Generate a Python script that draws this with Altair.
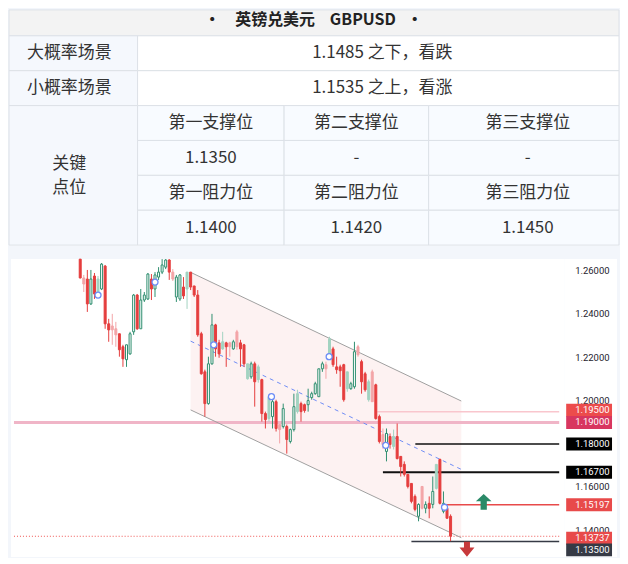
import altair as alt
import pandas as pd

# ---------------- table content ----------------
title_cn = "英镑兑美元"
title_en = "GBPUSD"
scenario_labels = ["大概率场景", "小概率场景"]
scenario_texts = ["1.1485 之下，看跌", "1.1535 之上，看涨"]
key_label_lines = ["关键", "点位"]
support_headers = ["第一支撑位", "第二支撑位", "第三支撑位"]
support_values = ["1.1350", "-", "-"]
resist_headers = ["第一阻力位", "第二阻力位", "第三阻力位"]
resist_values = ["1.1400", "1.1420", "1.1450"]

# ---------------- candle data (daily GBPUSD) ----------------
opens = [
    1.2655, 1.2568, 1.2563, 1.2448, 1.2577, 1.2489, 1.2517, 1.2623, 1.2356, 1.2346,
    1.2333, 1.2310, 1.2250, 1.2190, 1.2217, 1.2319, 1.2489, 1.2333, 1.2466, 1.2471,
    1.2563, 1.2517, 1.2572, 1.2595, 1.2618, 1.2651, 1.2595, 1.2480, 1.2471, 1.2526,
    1.2517, 1.2595, 1.2531, 1.2489, 1.2310, 1.2134, 1.1987, 1.2171, 1.2351, 1.2268,
    1.2240, 1.2268, 1.2268, 1.2240, 1.2319, 1.2268, 1.2259, 1.2102, 1.2111, 1.2171,
    1.2098, 1.2098, 1.1941, 1.1918, 1.1927, 1.1996, 1.1890, 1.1881, 1.1881, 1.1812,
    1.1867, 1.1950, 1.1987, 1.1982, 1.1982, 1.2015, 1.2033, 1.2019, 1.2148, 1.2167,
    1.2194, 1.2240, 1.2157, 1.2157, 1.2167, 1.2056, 1.2056, 1.2065, 1.2250, 1.2181,
    1.2125, 1.2005, 1.2134, 1.2074, 1.1927, 1.1844, 1.1766, 1.1835, 1.1789, 1.1835,
    1.1743, 1.1706, 1.1660, 1.1618, 1.1558, 1.1466, 1.1604, 1.1503, 1.1526, 1.1521,
    1.1595, 1.1729, 1.1489, 1.1503, 1.1466,
]
highs = [
    1.2655, 1.2582, 1.2605, 1.2605, 1.2591, 1.2577, 1.2637, 1.2628, 1.2379, 1.2402,
    1.2365, 1.2310, 1.2259, 1.2259, 1.2319, 1.2494, 1.2494, 1.2517, 1.2503, 1.2591,
    1.2586, 1.2595, 1.2618, 1.2655, 1.2655, 1.2655, 1.2609, 1.2582, 1.2586, 1.2572,
    1.2595, 1.2595, 1.2531, 1.2512, 1.2319, 1.2144, 1.2204, 1.2402, 1.2356, 1.2282,
    1.2319, 1.2273, 1.2273, 1.2282, 1.2328, 1.2282, 1.2263, 1.2171, 1.2181, 1.2181,
    1.2167, 1.2102, 1.1950, 1.2028, 1.2019, 1.2005, 1.1890, 1.1987, 1.1890, 1.1872,
    1.2033, 1.2051, 1.1996, 1.1987, 1.2056, 1.2042, 1.2088, 1.2148, 1.2181, 1.2181,
    1.2296, 1.2250, 1.2204, 1.2167, 1.2171, 1.2134, 1.2088, 1.2273, 1.2259, 1.2190,
    1.2134, 1.2098, 1.2144, 1.2079, 1.1936, 1.1872, 1.1872, 1.1849, 1.1867, 1.1895,
    1.1743, 1.1720, 1.1660, 1.1618, 1.1567, 1.1526, 1.1604, 1.1535, 1.1558, 1.1650,
    1.1706, 1.1733, 1.1581, 1.1512, 1.1475,
]
lows = [
    1.2566, 1.2503, 1.2411, 1.2443, 1.2471, 1.2476, 1.2512, 1.2333, 1.2273, 1.2259,
    1.2250, 1.2204, 1.2157, 1.2157, 1.2213, 1.2305, 1.2328, 1.2333, 1.2457, 1.2466,
    1.2466, 1.2480, 1.2559, 1.2586, 1.2609, 1.2559, 1.2554, 1.2457, 1.2462, 1.2471,
    1.2425, 1.2512, 1.2480, 1.2296, 1.2121, 1.1927, 1.1982, 1.2167, 1.2204, 1.2199,
    1.2236, 1.2157, 1.2204, 1.2236, 1.2236, 1.2157, 1.2157, 1.2098, 1.2102, 1.1973,
    1.2084, 1.1904, 1.1872, 1.1904, 1.1872, 1.1858, 1.1803, 1.1872, 1.1756, 1.1803,
    1.1858, 1.1941, 1.1904, 1.1945, 1.1950, 1.2005, 1.2028, 1.2019, 1.2134, 1.2102,
    1.2190, 1.2157, 1.2125, 1.2065, 1.1996, 1.2042, 1.2051, 1.2056, 1.2204, 1.2033,
    1.2042, 1.1996, 1.1996, 1.1913, 1.1803, 1.1779, 1.1720, 1.1779, 1.1775, 1.1729,
    1.1650, 1.1650, 1.1595, 1.1526, 1.1489, 1.1443, 1.1498, 1.1480, 1.1457, 1.1503,
    1.1590, 1.1521, 1.1480, 1.1457, 1.1351,
]
closes = [
    1.2568, 1.2540, 1.2448, 1.2563, 1.2494, 1.2563, 1.2632, 1.2356, 1.2328, 1.2328,
    1.2305, 1.2236, 1.2194, 1.2259, 1.2310, 1.2489, 1.2333, 1.2466, 1.2489, 1.2586,
    1.2517, 1.2582, 1.2595, 1.2628, 1.2651, 1.2595, 1.2563, 1.2572, 1.2582, 1.2485,
    1.2595, 1.2526, 1.2489, 1.2305, 1.2125, 1.1987, 1.2171, 1.2351, 1.2240, 1.2217,
    1.2273, 1.2250, 1.2250, 1.2273, 1.2250, 1.2240, 1.2171, 1.2171, 1.2171, 1.2088,
    1.2157, 1.1941, 1.1913, 1.2019, 1.1996, 1.1872, 1.1867, 1.1964, 1.1821, 1.1867,
    1.1973, 1.2033, 1.1950, 1.1955, 1.2001, 1.2033, 1.2079, 1.2148, 1.2171, 1.2148,
    1.2287, 1.2167, 1.2144, 1.2139, 1.2005, 1.2134, 1.2079, 1.2227, 1.2213, 1.2088,
    1.2051, 1.2088, 1.1996, 1.1918, 1.1812, 1.1798, 1.1849, 1.1798, 1.1835, 1.1733,
    1.1696, 1.1660, 1.1604, 1.1535, 1.1498, 1.1521, 1.1503, 1.1521, 1.1503, 1.1581,
    1.1706, 1.1526, 1.1526, 1.1457, 1.1374,
]
faded = [
    0, 1, 0, 0, 0, 1, 0, 0, 0, 1,
    1, 0, 0, 0, 0, 0, 0, 0, 0, 0,
    0, 0, 0, 0, 0, 0, 1, 0, 0, 0,
    1, 0, 0, 0, 0, 0, 0, 0, 0, 0,
    1, 0, 1, 0, 1, 0, 0, 1, 0, 0,
    1, 0, 0, 1, 0, 0, 1, 0, 0, 0,
    0, 1, 0, 0, 0, 0, 0, 0, 0, 1,
    1, 0, 0, 0, 0, 1, 0, 0, 1, 0,
    0, 1, 1, 0, 0, 1, 0, 0, 1, 0,
    0, 0, 0, 0, 0, 0, 1, 0, 0, 0,
    1, 0, 0, 0, 0,
]

month_idx = [-17.2, 4.2, 26.2, 48.5, 69.9, 93.0, 115.3]
ytick_vals = [1.26, 1.24, 1.22, 1.20, 1.18, 1.16, 1.14]

channel_idx = [31, 107]
channel_upper = [1.2594, 1.1999]
channel_lower = [1.1958, 1.1367]

marker_idx = [5.0, 21.0, 37.5, 53.7, 69.9, 85.8, 102.3]
marker_price = [1.2489, 1.2549, 1.2259, 1.2019, 1.2204, 1.1794, 1.1508]

levels = [1.19500, 1.19000, 1.18000, 1.16700, 1.15197, 1.13737, 1.13500]
level_start_idx = [83.4, None, 94.1, 85.0, 102.3, None, 93.0]

arrow_up = (113.3, 1.1533)
arrow_down = (108.6, 1.1314)

# ---------------- styles / layout ----------------
FONT = "Noto Sans CJK SC"
AXFONT = "Roboto"
BLUE_BG = "#f3f6fb"
BORDER = "#dde1e7"
TXT = "#333333"

level_line_color = ["#f9c6cd", "#f0b5c7", "#111111", "#111111", "#e84a4a", "#ef5350", "#363a45"]
level_line_width = [1.5, 3, 1.5, 2, 1.5, 1, 1.5]
level_dash = [None, None, None, None, None, [1, 2], None]
level_box_color = ["#ec4c4c", "#d8365f", "#000000", "#000000", "#e84a4a", "#e84a4a", "#363a45"]
level_box_shift = [-1.5, 0, 0, 0, 0, 2, 8.5]

# ---------------- table panel ----------------
COLS = [0, 137, 284, 429, 628]
ROWS = [0, 34, 69, 104, 139, 174, 209, 244]
VIS_X = (8, 620)
VIS_Y = (8, 245)


def clampx(v):
    return min(max(v, VIS_X[0]), VIS_X[1])


def clampy(v):
    return min(max(v, VIS_Y[0]), VIS_Y[1])


cells = []


def add_cell(x0, x1, y0, y1, fill):
    cells.append(dict(x0=clampx(x0), x1=clampx(x1), y0=clampy(y0), y1=clampy(y1), fill=fill))


add_cell(COLS[0], COLS[4], ROWS[0], ROWS[1], "#f3f3f3")
for r in range(2):
    add_cell(COLS[0], COLS[1], ROWS[1 + r], ROWS[2 + r], "#f5f8fd")
    add_cell(COLS[1], COLS[4], ROWS[1 + r], ROWS[2 + r], "#ffffff")
add_cell(COLS[0], COLS[1], ROWS[3], ROWS[7], "#f5f8fd")
for r in range(4):
    for c in range(3):
        add_cell(COLS[1 + c], COLS[2 + c], ROWS[3 + r], ROWS[4 + r], "#f8fbff")
cells_df = pd.DataFrame(cells)


def cx(a, b):
    return (a + b) / 2


texts = []
for r in range(2):
    yc = cx(ROWS[1 + r], ROWS[2 + r])
    texts.append(dict(x=cx(COLS[0], COLS[1]), y=yc, t=scenario_labels[r]))
    texts.append(dict(x=cx(COLS[1], COLS[4]), y=yc, t=scenario_texts[r]))
grid_rows = [support_headers, support_values, resist_headers, resist_values]
for r, row in enumerate(grid_rows):
    yc = cx(ROWS[3 + r], ROWS[4 + r])
    for c, t in enumerate(row):
        texts.append(dict(x=cx(COLS[1 + c], COLS[2 + c]), y=yc, t=t))
for k, t in enumerate(key_label_lines):
    texts.append(dict(x=cx(COLS[0], COLS[1]), y=162.5 + 24 * k, t=t))
texts_df = pd.DataFrame(texts)

title_df = pd.DataFrame([
    dict(x=212, y=18.5, t="•"),
    dict(x=275, y=18.5, t=title_cn),
    dict(x=363, y=18.5, t=title_en),
    dict(x=415, y=18.5, t="•"),
])

tx = alt.Scale(domain=[VIS_X[0], VIS_X[1]], nice=False, zero=False)
ty = alt.Scale(domain=[VIS_Y[0], VIS_Y[1]], nice=False, zero=False, reverse=True)

t_rects = alt.Chart(cells_df).mark_rect(stroke=BORDER, strokeWidth=1).encode(
    x=alt.X("x0:Q", scale=tx, axis=None), x2="x1:Q",
    y=alt.Y("y0:Q", scale=ty, axis=None), y2="y1:Q",
    fill=alt.Fill("fill:N", scale=None),
)
t_text = alt.Chart(texts_df).mark_text(font=FONT, fontSize=17, color=TXT, baseline="middle", align="center").encode(
    x=alt.X("x:Q", scale=tx, axis=None), y=alt.Y("y:Q", scale=ty, axis=None), text="t:N"
)
t_title = alt.Chart(title_df).mark_text(font=FONT, fontSize=16, fontWeight="bold", color="#222222",
                                        baseline="middle", align="center").encode(
    x=alt.X("x:Q", scale=tx, axis=None), y=alt.Y("y:Q", scale=ty, axis=None), text="t:N"
)
table = alt.layer(t_rects, t_text, t_title).properties(width=VIS_X[1] - VIS_X[0], height=VIS_Y[1] - VIS_Y[0])

# ---------------- candlestick panel ----------------
W, H = 557, 299
XDOM = [-18.6, 134.5]
YDOM = [1.12774, 1.26553]
xs = alt.Scale(domain=XDOM, nice=False, zero=False)
ys = alt.Scale(domain=YDOM, nice=False, zero=False)

cd = pd.DataFrame({"i": list(range(len(opens))), "o": opens, "h": highs, "l": lows, "c": closes, "f": faded})
cd["k"] = [("G" if c >= o else "R") if f == 0 else ("g" if c >= o else "r")
           for o, c, f in zip(cd.o, cd.c, cd.f)]
kinds = ["R", "r", "G", "g"]
wick_col = ["#e53e3e", "#f3a5a8", "#2f8f6f", "#a3d3c1"]
body_fill = ["#e53e3e", "#f3a5a8", "#ffffff", "#a3d3c1"]
body_stroke = ["#e53e3e", "#f3a5a8", "#2f8f6f", "#a3d3c1"]

one = pd.DataFrame({"a": [0]})
bg_right = alt.Chart(one).mark_rect(color="white").encode(
    x=alt.value(W), x2=alt.value(610), y=alt.value(0), y2=alt.value(H))
strip_left = alt.Chart(one).mark_rect(color=BLUE_BG).encode(
    x=alt.value(0), x2=alt.value(2), y=alt.value(0), y2=alt.value(H))

ch = pd.DataFrame({"i": channel_idx, "up": channel_upper, "lo": channel_lower})
ch["mid"] = (ch.up + ch.lo) / 2
ch_fill = alt.Chart(ch).mark_area(color="#f08080", opacity=0.1).encode(
    x=alt.X("i:Q", scale=xs, axis=None), y=alt.Y("up:Q", scale=ys, axis=None), y2="lo:Q")
ch_up = alt.Chart(ch).mark_line(color="#a0a0a0", strokeWidth=1).encode(
    x=alt.X("i:Q", scale=xs, axis=None), y=alt.Y("up:Q", scale=ys, axis=None))
ch_lo = alt.Chart(ch).mark_line(color="#a0a0a0", strokeWidth=1).encode(
    x=alt.X("i:Q", scale=xs, axis=None), y=alt.Y("lo:Q", scale=ys, axis=None))
ch_mid = alt.Chart(ch).mark_line(color="#6f8df5", strokeWidth=1, strokeDash=[4, 4]).encode(
    x=alt.X("i:Q", scale=xs, axis=None), y=alt.Y("mid:Q", scale=ys, axis=None))

level_layers = []
box_layers = []
for p, s, lc, lw, dash, bc, sh in zip(levels, level_start_idx, level_line_color, level_line_width,
                                       level_dash, level_box_color, level_box_shift):
    d = pd.DataFrame({"p": [p], "x0": [XDOM[0] if s is None else s], "x1": [XDOM[1]]})
    kw = dict(color=lc, strokeWidth=lw)
    if dash is not None:
        kw["strokeDash"] = dash
    level_layers.append(alt.Chart(d).mark_rule(**kw).encode(
        x=alt.X("x0:Q", scale=xs, axis=None), x2="x1:Q", y=alt.Y("p:Q", scale=ys, axis=None)))
    box_layers.append(alt.Chart(d).mark_rule(color=bc, strokeWidth=13, yOffset=sh, strokeCap="butt").encode(
        x=alt.value(559), x2=alt.value(605), y=alt.Y("p:Q", scale=ys, axis=None)))
    box_layers.append(alt.Chart(d).mark_text(font=AXFONT, fontSize=9.5, color="white", align="left",
                                             baseline="middle", yOffset=sh).encode(
        x=alt.value(568), y=alt.Y("p:Q", scale=ys, axis=None), text=alt.Text("p:Q", format=".5f")))

xaxis = alt.Axis(values=month_idx, grid=True, gridColor="#eeeeee", labels=False, ticks=False,
                 domain=False, title=None)
yaxis = alt.Axis(orient="right", values=ytick_vals, grid=True, gridColor="#eeeeee", labels=False,
                 ticks=False, domain=False, title=None)

wicks = alt.Chart(cd).mark_rule(strokeWidth=1).encode(
    x=alt.X("i:Q", scale=xs, axis=xaxis),
    y=alt.Y("l:Q", scale=ys, axis=yaxis), y2="h:Q",
    color=alt.Color("k:N", scale=alt.Scale(domain=kinds, range=wick_col), legend=None),
)
bodies = alt.Chart(cd).mark_bar(size=2, strokeWidth=1).encode(
    x=alt.X("i:Q", scale=xs, axis=None),
    y=alt.Y("o:Q", scale=ys, axis=None), y2="c:Q",
    fill=alt.Fill("k:N", scale=alt.Scale(domain=kinds, range=body_fill), legend=None),
    stroke=alt.Stroke("k:N", scale=alt.Scale(domain=kinds, range=body_stroke), legend=None),
)

mk = pd.DataFrame({"i": marker_idx, "p": marker_price})
markers = alt.Chart(mk).mark_point(shape="circle", size=36, filled=False, fill="white",
                                   stroke="#6d8df6", strokeWidth=1.3, opacity=1).encode(
    x=alt.X("i:Q", scale=xs, axis=None), y=alt.Y("p:Q", scale=ys, axis=None))

UP_PATH = "M0,-1L1,-0.06L0.4,-0.06L0.4,1L-0.4,1L-0.4,-0.06L-1,-0.06Z"
DOWN_PATH = "M-0.4,-1L0.4,-1L0.4,-0.24L1,-0.24L0,1L-1,-0.24L-0.4,-0.24Z"
up_df = pd.DataFrame({"i": [arrow_up[0]], "p": [arrow_up[1]]})
dn_df = pd.DataFrame({"i": [arrow_down[0]], "p": [arrow_down[1]]})
arr_up = alt.Chart(up_df).mark_point(shape=UP_PATH, size=246, filled=True, color="#2b8a68", opacity=1).encode(
    x=alt.X("i:Q", scale=xs, axis=None), y=alt.Y("p:Q", scale=ys, axis=None))
arr_dn = alt.Chart(dn_df).mark_point(shape=DOWN_PATH, size=225, filled=True, color="#c7393b", opacity=1).encode(
    x=alt.X("i:Q", scale=xs, axis=None), y=alt.Y("p:Q", scale=ys, axis=None))

yl = pd.DataFrame({"v": ytick_vals})
ylabels = alt.Chart(yl).mark_text(font=AXFONT, fontSize=9.5, color="#1e222d", align="left",
                                  baseline="middle").encode(
    x=alt.value(568), y=alt.Y("v:Q", scale=ys, axis=None), text=alt.Text("v:Q", format=".5f"))

candles = alt.layer(
    bg_right, strip_left, ch_fill, *level_layers, ch_up, ch_lo, ch_mid,
    wicks, bodies, markers, arr_up, arr_dn, ylabels, *box_layers,
).properties(width=W, height=H)

chart = alt.vconcat(table, candles, spacing=12).properties(
    padding=0, background=BLUE_BG
).configure_view(stroke=None, fill="white")

chart.save("out.html", embed_options={"renderer": "svg", "actions": False})
